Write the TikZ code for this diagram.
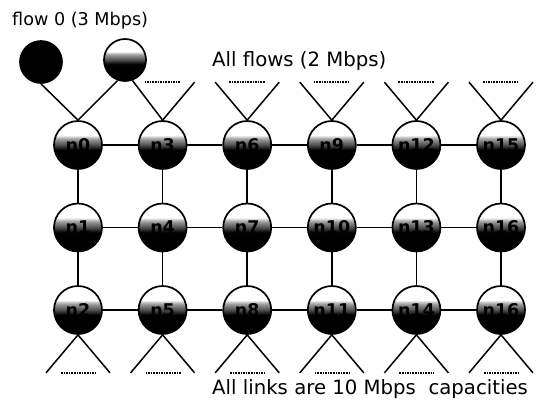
\documentclass[tikz,border=0pt]{standalone}
\usepackage{fontspec}
\setmainfont{DejaVu Sans}
\usetikzlibrary{positioning}
\pgfdeclareverticalshading{ballshade}{100bp}{color(0bp)=(black); color(45bp)=(black); color(50bp)=(black!70); color(56bp)=(black!40); color(59bp)=(black!15); color(60bp)=(white); color(100bp)=(white)}
\tikzstyle{ball} = [circle, minimum size = 48pt, inner sep = 0pt, draw=black, line width = 1.7pt, shade, shading = ballshade, font = \bfseries\fontsize{17.5}{18}\selectfont]
\tikzstyle{source} = [circle, minimum size = 42pt, inner sep = 0pt, draw=black, line width = 1.7pt]
\tikzstyle{link} = [line width = 1.5pt, -]
\tikzstyle{dots} = [line width = 1.5pt, dash pattern = on 1.5pt off 1.1pt]
\tikzstyle{caption} = [anchor = base west, inner sep = 0pt, font = \fontsize{19.7}{20}\selectfont]

\begin{document}
\begin{tikzpicture}[node distance = 84.6pt]
                    \useasboundingbox (0,0) rectangle (540pt,-405pt);
                    \node (n0) [ball] at (78pt,-145pt) {n0};
                    \node (n3) [ball, right of = n0] {n3};
                    \node (n6) [ball, right of = n3] {n6};
                    \node (n9) [ball, right of = n6] {n9};
                    \node (n12) [ball, right of = n9] {n12};
                    \node (n15) [ball, right of = n12] {n15};
                    \node (n1) [ball, node distance = 82.5pt, below of = n0] {n1};
                    \node (n4) [ball, right of = n1] {n4};
                    \node (n7) [ball, right of = n4] {n7};
                    \node (n10) [ball, right of = n7] {n10};
                    \node (n13) [ball, right of = n10] {n13};
                    \node (n16) [ball, right of = n13] {n16};
                    \node (n2) [ball, node distance = 82.5pt, below of = n1] {n2};
                    \node (n5) [ball, right of = n2] {n5};
                    \node (n8) [ball, right of = n5] {n8};
                    \node (n11) [ball, right of = n8] {n11};
                    \node (n14) [ball, right of = n11] {n14};
                    \node (n17) [ball, right of = n14] {n16};
                    \node (flow0) [source, fill=black] at (41pt,-62pt) {};
                    \node (flows) [source, shade, shading = ballshade] at (125pt,-60pt) {};
                    \node (flow0label) [caption, font = \fontsize{17.6}{18}\selectfont] at (12pt,-25pt) {flow 0 (3 Mbps)};
                    \node (flowslabel) [caption] at (212pt,-66pt) {All flows (2 Mbps)};
                    \node (linkslabel) [caption] at (212pt,-394pt) {All links are 10 Mbps\ \ capacities};
                    \coordinate (t3l) at ([shift={(-32pt,38pt)}]n3.north);
                    \coordinate (t3r) at ([shift={(32pt,38pt)}]n3.north);
                    \coordinate (t6l) at ([shift={(-32pt,38pt)}]n6.north);
                    \coordinate (t6r) at ([shift={(32pt,38pt)}]n6.north);
                    \coordinate (t9l) at ([shift={(-32pt,38pt)}]n9.north);
                    \coordinate (t9r) at ([shift={(32pt,38pt)}]n9.north);
                    \coordinate (t12l) at ([shift={(-32pt,38pt)}]n12.north);
                    \coordinate (t12r) at ([shift={(32pt,38pt)}]n12.north);
                    \coordinate (t15l) at ([shift={(-32pt,38pt)}]n15.north);
                    \coordinate (t15r) at ([shift={(32pt,38pt)}]n15.north);
                    \coordinate (b2l) at ([shift={(-32pt,-38pt)}]n2.south);
                    \coordinate (b2r) at ([shift={(32pt,-38pt)}]n2.south);
                    \coordinate (b5l) at ([shift={(-32pt,-38pt)}]n5.south);
                    \coordinate (b5r) at ([shift={(32pt,-38pt)}]n5.south);
                    \coordinate (b8l) at ([shift={(-32pt,-38pt)}]n8.south);
                    \coordinate (b8r) at ([shift={(32pt,-38pt)}]n8.south);
                    \coordinate (b11l) at ([shift={(-32pt,-38pt)}]n11.south);
                    \coordinate (b11r) at ([shift={(32pt,-38pt)}]n11.south);
                    \coordinate (b14l) at ([shift={(-32pt,-38pt)}]n14.south);
                    \coordinate (b14r) at ([shift={(32pt,-38pt)}]n14.south);
                    \coordinate (b17l) at ([shift={(-32pt,-38pt)}]n17.south);
                    \coordinate (b17r) at ([shift={(32pt,-38pt)}]n17.south);
                    \draw [link] (n0) -- (n3);
                    \draw [link] (n3) -- (n6);
                    \draw [link] (n6) -- (n9);
                    \draw [link] (n9) -- (n12);
                    \draw [link] (n12) -- (n15);
                    \draw [link] (n1) -- (n4);
                    \draw [link] (n4) -- (n7);
                    \draw [link] (n7) -- (n10);
                    \draw [link] (n10) -- (n13);
                    \draw [link] (n13) -- (n16);
                    \draw [link] (n2) -- (n5);
                    \draw [link] (n5) -- (n8);
                    \draw [link] (n8) -- (n11);
                    \draw [link] (n11) -- (n14);
                    \draw [link] (n14) -- (n17);
                    \draw [link] (n0) -- (n1);
                    \draw [link] (n1) -- (n2);
                    \draw [link] (n3) -- (n4);
                    \draw [link] (n4) -- (n5);
                    \draw [link] (n6) -- (n7);
                    \draw [link] (n7) -- (n8);
                    \draw [link] (n9) -- (n10);
                    \draw [link] (n10) -- (n11);
                    \draw [link] (n12) -- (n13);
                    \draw [link] (n13) -- (n14);
                    \draw [link] (n15) -- (n16);
                    \draw [link] (n16) -- (n17);
                    \draw [link] (flow0.south) -- (n0.north);
                    \draw [link] (flows.250) -- (n0.north);
                    \draw [link] (flows.290) -- (n3.north);
                    \draw [link] (n3.north) -- (t3r);
                    \draw [link] (n6.north) -- (t6l);
                    \draw [link] (n6.north) -- (t6r);
                    \draw [link] (n9.north) -- (t9l);
                    \draw [link] (n9.north) -- (t9r);
                    \draw [link] (n12.north) -- (t12l);
                    \draw [link] (n12.north) -- (t12r);
                    \draw [link] (n15.north) -- (t15l);
                    \draw [link] (n15.north) -- (t15r);
                    \draw [link] (n2.south) -- (b2l);
                    \draw [link] (n2.south) -- (b2r);
                    \draw [link] (n5.south) -- (b5l);
                    \draw [link] (n5.south) -- (b5r);
                    \draw [link] (n8.south) -- (b8l);
                    \draw [link] (n8.south) -- (b8r);
                    \draw [link] (n11.south) -- (b11l);
                    \draw [link] (n11.south) -- (b11r);
                    \draw [link] (n14.south) -- (b14l);
                    \draw [link] (n14.south) -- (b14r);
                    \draw [link] (n17.south) -- (b17l);
                    \draw [link] (n17.south) -- (b17r);
                    \draw [dots] ([xshift=14pt]t3l) -- ([xshift=-14pt]t3r);
                    \draw [dots] ([xshift=14pt]t6l) -- ([xshift=-14pt]t6r);
                    \draw [dots] ([xshift=14pt]t9l) -- ([xshift=-14pt]t9r);
                    \draw [dots] ([xshift=14pt]t12l) -- ([xshift=-14pt]t12r);
                    \draw [dots] ([xshift=14pt]t15l) -- ([xshift=-14pt]t15r);
                    \draw [dots] ([xshift=15pt]b2l) -- ([xshift=-14pt]b2r);
                    \draw [dots] ([xshift=15pt]b5l) -- ([xshift=-14pt]b5r);
                    \draw [dots] ([xshift=15pt]b8l) -- ([xshift=-14pt]b8r);
                    \draw [dots] ([xshift=15pt]b11l) -- ([xshift=-14pt]b11r);
                    \draw [dots] ([xshift=15pt]b14l) -- ([xshift=-14pt]b14r);
                    \draw [dots] ([xshift=15pt]b17l) -- ([xshift=-14pt]b17r);
                \end{tikzpicture}
\end{document}
